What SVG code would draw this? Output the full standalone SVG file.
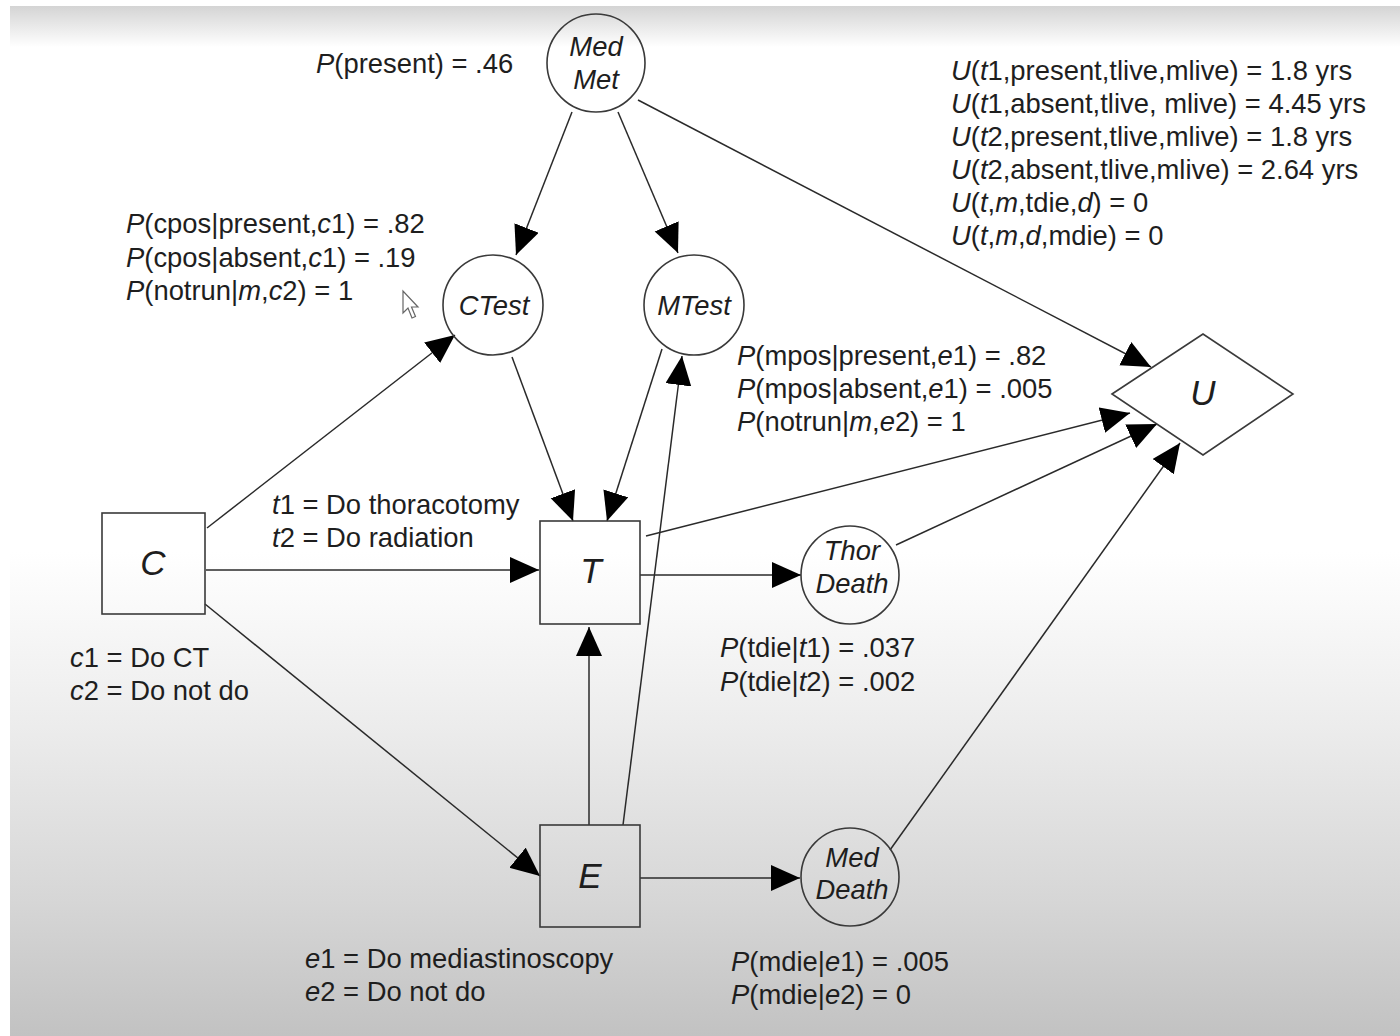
<svg xmlns="http://www.w3.org/2000/svg" width="1400" height="1036" viewBox="0 0 1400 1036">
<defs>
<linearGradient id="bg" x1="0" y1="6" x2="0" y2="1036" gradientUnits="userSpaceOnUse">
<stop offset="0" stop-color="#d4d4d4"/>
<stop offset="0.04" stop-color="#ffffff"/>
<stop offset="0.53" stop-color="#ffffff"/>
<stop offset="0.7" stop-color="#ececec"/>
<stop offset="0.87" stop-color="#d6d6d6"/>
<stop offset="1" stop-color="#c2c2c2"/>
</linearGradient>
<marker id="ah" markerUnits="userSpaceOnUse" markerWidth="31" markerHeight="28" refX="29" refY="13" orient="auto">
<path d="M0,0 L29,13 L0,26 Z" fill="#000"/>
</marker>
</defs>
<style>
text{font-family:"Liberation Sans",Arial,sans-serif;font-size:27.4px;fill:#1e1e1e}
.i{font-style:italic}
.big{font-size:35px;font-style:italic}
.node{fill:none;stroke:#3a3a3a;stroke-width:1.6}
.edge{stroke:#2a2a2a;stroke-width:1.5;fill:none;marker-end:url(#ah)}
</style>
<rect x="0" y="0" width="1400" height="1036" fill="#ffffff"/>
<rect x="10" y="6" width="1390" height="1030" fill="url(#bg)"/>

<g id="connectors">
<line class="edge" x1="572" y1="112" x2="516" y2="255"/>
<line class="edge" x1="618" y1="112" x2="678" y2="253"/>
<line class="edge" x1="638" y1="100" x2="1151" y2="367"/>
<line class="edge" x1="207" y1="528" x2="455" y2="335"/>
<line class="edge" x1="206" y1="570" x2="539" y2="570"/>
<line class="edge" x1="205" y1="604" x2="540" y2="876"/>
<line class="edge" x1="512" y1="357" x2="573" y2="521"/>
<line class="edge" x1="662" y1="349" x2="607" y2="521"/>
<line class="edge" x1="589" y1="825" x2="589" y2="627"/>
<line class="edge" x1="623" y1="825" x2="682" y2="356"/>
<line class="edge" x1="646" y1="536" x2="1130" y2="413"/>
<line class="edge" x1="640" y1="575" x2="801" y2="575"/>
<line class="edge" x1="896" y1="545" x2="1157" y2="424"/>
<line class="edge" x1="890" y1="850" x2="1180" y2="443"/>
<line class="edge" x1="640" y1="878" x2="800" y2="878"/>
</g>

<g id="medmet">
<circle class="node" cx="596" cy="63" r="49"/>
<text class="i" x="596" y="56" text-anchor="middle">Med</text>
<text class="i" x="596" y="89" text-anchor="middle">Met</text>
</g>
<g id="ctest">
<circle class="node" cx="493" cy="305" r="50"/>
<text class="i" x="494" y="315" text-anchor="middle">CTest</text>
</g>
<g id="mtest">
<circle class="node" cx="694" cy="305" r="50"/>
<text class="i" x="694" y="315" text-anchor="middle">MTest</text>
</g>
<g id="c">
<rect class="node" x="102" y="513" width="103" height="101"/>
<text class="big" x="153" y="575" text-anchor="middle">C</text>
</g>
<g id="t">
<rect class="node" x="540" y="521" width="100" height="103"/>
<text class="big" x="591" y="583" text-anchor="middle">T</text>
</g>
<g id="e">
<rect class="node" x="540" y="825" width="100" height="102"/>
<text class="big" x="590" y="888" text-anchor="middle">E</text>
</g>
<g id="thordeath">
<circle class="node" cx="850" cy="575" r="49"/>
<text class="i" x="852" y="560" text-anchor="middle">Thor</text>
<text class="i" x="852" y="593" text-anchor="middle">Death</text>
</g>
<g id="meddeath">
<circle class="node" cx="850" cy="877" r="49"/>
<text class="i" x="852" y="867" text-anchor="middle">Med</text>
<text class="i" x="852" y="899" text-anchor="middle">Death</text>
</g>
<g id="u">
<polygon class="node" points="1112,394 1203,334 1293,394 1203,455"/>
<text class="big" x="1203" y="405" text-anchor="middle">U</text>
</g>

<g id="labels">
<text x="316" y="73"><tspan class="i">P</tspan>(present) = .46</text>

<text x="951" y="80"><tspan class="i">U</tspan>(<tspan class="i">t</tspan>1,present,tlive,mlive) = 1.8 yrs</text>
<text x="951" y="113"><tspan class="i">U</tspan>(<tspan class="i">t</tspan>1,absent,tlive, mlive) = 4.45 yrs</text>
<text x="951" y="146"><tspan class="i">U</tspan>(<tspan class="i">t</tspan>2,present,tlive,mlive) = 1.8 yrs</text>
<text x="951" y="179"><tspan class="i">U</tspan>(<tspan class="i">t</tspan>2,absent,tlive,mlive) = 2.64 yrs</text>
<text x="951" y="212"><tspan class="i">U</tspan>(<tspan class="i">t</tspan>,<tspan class="i">m</tspan>,tdie,<tspan class="i">d</tspan>) = 0</text>
<text x="951" y="245"><tspan class="i">U</tspan>(<tspan class="i">t</tspan>,<tspan class="i">m</tspan>,<tspan class="i">d</tspan>,mdie) = 0</text>

<text x="126" y="233"><tspan class="i">P</tspan>(cpos|present,<tspan class="i">c</tspan>1) = .82</text>
<text x="126" y="267"><tspan class="i">P</tspan>(cpos|absent,<tspan class="i">c</tspan>1) = .19</text>
<text x="126" y="300"><tspan class="i">P</tspan>(notrun|<tspan class="i">m</tspan>,<tspan class="i">c</tspan>2) = 1</text>

<text x="737" y="365"><tspan class="i">P</tspan>(mpos|present,<tspan class="i">e</tspan>1) = .82</text>
<text x="737" y="398"><tspan class="i">P</tspan>(mpos|absent,<tspan class="i">e</tspan>1) = .005</text>
<text x="737" y="431"><tspan class="i">P</tspan>(notrun|<tspan class="i">m</tspan>,<tspan class="i">e</tspan>2) = 1</text>

<text x="272" y="514"><tspan class="i">t</tspan>1 = Do thoracotomy</text>
<text x="272" y="547"><tspan class="i">t</tspan>2 = Do radiation</text>

<text x="70" y="667"><tspan class="i">c</tspan>1 = Do CT</text>
<text x="70" y="700"><tspan class="i">c</tspan>2 = Do not do</text>

<text x="720" y="657"><tspan class="i">P</tspan>(tdie|<tspan class="i">t</tspan>1) = .037</text>
<text x="720" y="691"><tspan class="i">P</tspan>(tdie|<tspan class="i">t</tspan>2) = .002</text>

<text x="305" y="968"><tspan class="i">e</tspan>1 = Do mediastinoscopy</text>
<text x="305" y="1001"><tspan class="i">e</tspan>2 = Do not do</text>

<text x="731" y="971"><tspan class="i">P</tspan>(mdie|<tspan class="i">e</tspan>1) = .005</text>
<text x="731" y="1004"><tspan class="i">P</tspan>(mdie|<tspan class="i">e</tspan>2) = 0</text>
</g>

<path d="M403,291 L403,313 L408,308 L412,318 L415.5,316.5 L411.5,307 L418,307 Z" fill="#ffffff" stroke="#666" stroke-width="1.2"/>
</svg>
